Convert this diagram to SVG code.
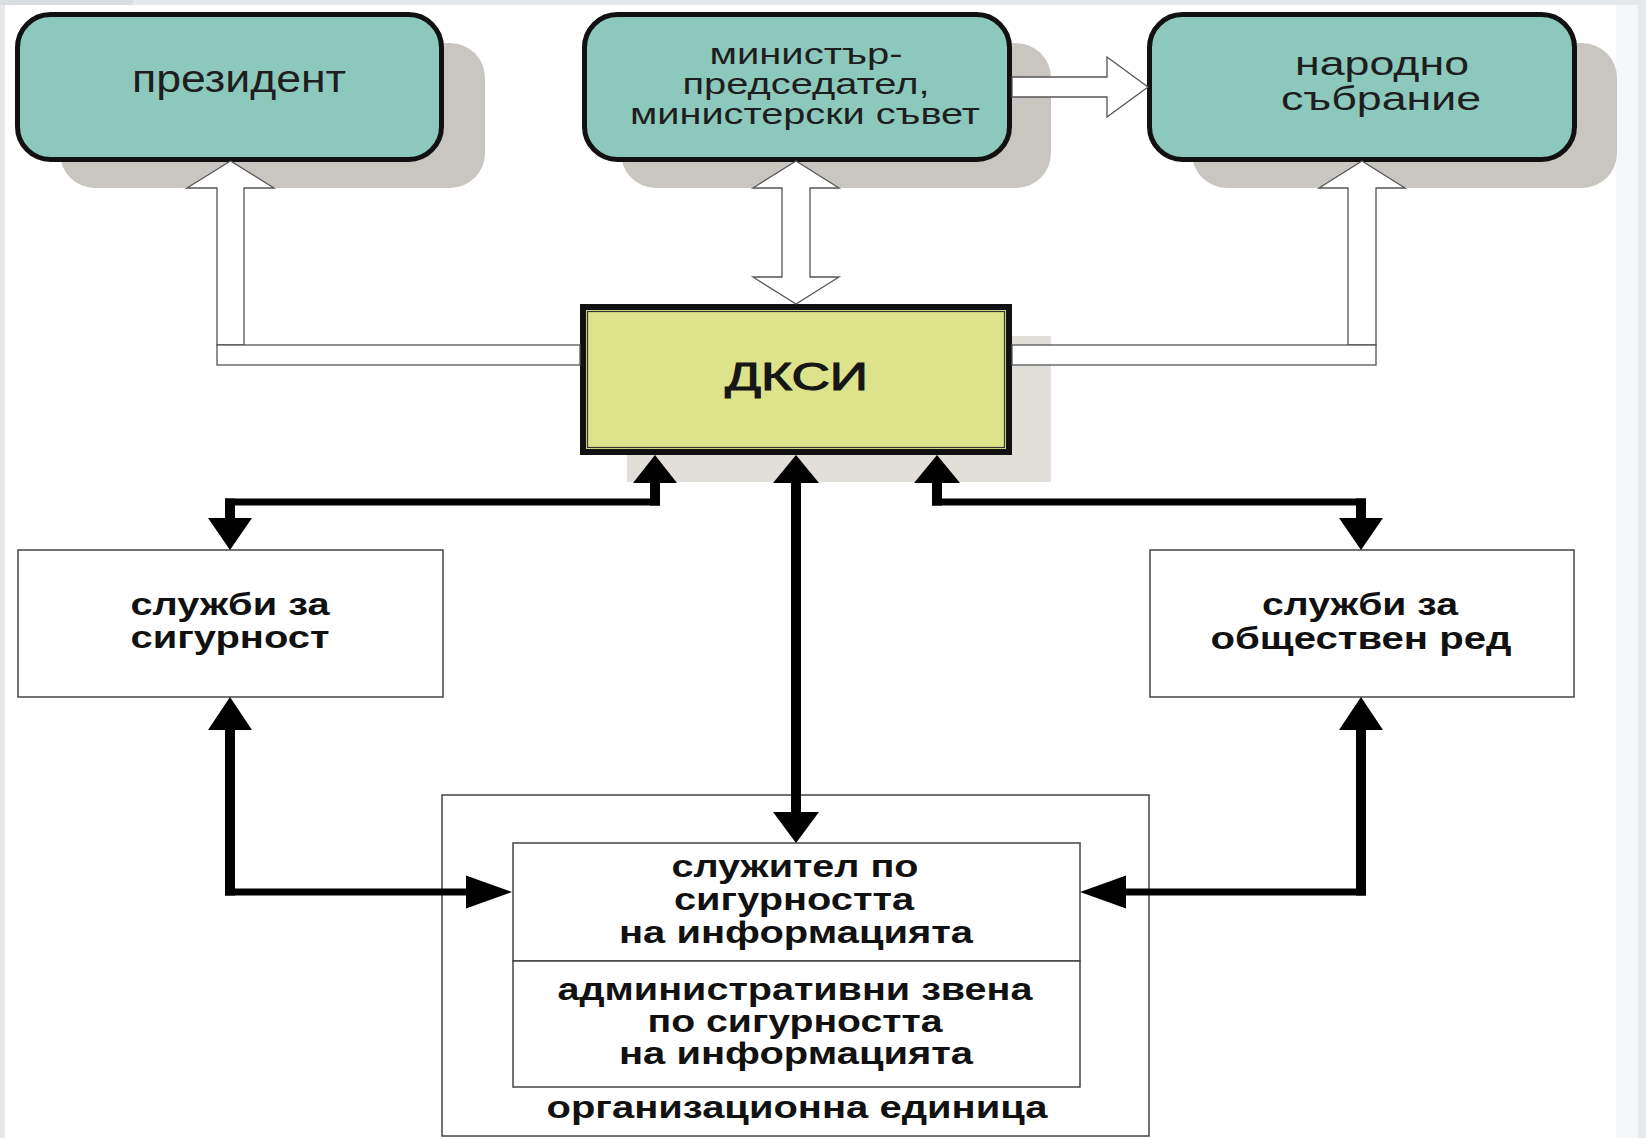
<svg xmlns="http://www.w3.org/2000/svg" width="1646" height="1138" viewBox="0 0 1646 1138">
<style>
.shadow{fill:#c9c5c1}
.round{fill:#8cc9bc;stroke:#111;stroke-width:5}
.thin{fill:#fff;stroke:#444;stroke-width:1.5}
.hollow{fill:#fff;stroke:#555;stroke-width:1.3;stroke-linejoin:miter}
.reg{font-family:"Liberation Sans",Arial,sans-serif;fill:#1e1e1e;text-anchor:middle}
.bold{font-family:"Liberation Sans",Arial,sans-serif;font-weight:bold;fill:#111;text-anchor:middle;font-size:31px}
.head{fill:#000}
.vline{stroke:#000;stroke-width:10;fill:none}
.hline{stroke:#000;stroke-width:7;fill:none}
</style>
<rect x="0" y="0" width="1646" height="1138" fill="#e5e9ec"/>
<rect x="0" y="0" width="133" height="5" fill="#d9dee1"/>
<rect x="5" y="5" width="1633" height="1133" fill="#fff"/>
<rect x="1616" y="5" width="22" height="1133" fill="#f6f7f8"/>

<g id="president">
<rect class="shadow" x="60" y="43" width="425" height="145" rx="35"/>
<rect class="round" x="17.5" y="14.5" width="424" height="145" rx="33"/>
<text class="reg" x="239" y="92" font-size="39" textLength="214" lengthAdjust="spacingAndGlyphs">президент</text>
</g>

<g id="minister">
<rect class="shadow" x="621" y="43" width="430" height="145" rx="35"/>
<rect class="round" x="584.5" y="14.5" width="425" height="145" rx="33"/>
<text class="reg" x="806" y="64" font-size="29" textLength="193" lengthAdjust="spacingAndGlyphs">министър-</text>
<text class="reg" x="806" y="94" font-size="29" textLength="247" lengthAdjust="spacingAndGlyphs">председател,</text>
<text class="reg" x="805" y="124" font-size="29" textLength="350" lengthAdjust="spacingAndGlyphs">министерски съвет</text>
</g>

<g id="parliament">
<rect class="shadow" x="1192" y="43" width="425" height="145" rx="35"/>
<rect class="round" x="1149.5" y="14.5" width="425" height="145" rx="33"/>
<text class="reg" x="1382" y="75" font-size="33" textLength="174" lengthAdjust="spacingAndGlyphs">народно</text>
<text class="reg" x="1381" y="110" font-size="33" textLength="200" lengthAdjust="spacingAndGlyphs">събрание</text>
</g>

<g id="dksi">
<rect x="627" y="336" width="424" height="146" fill="#e2dfda"/>
<rect x="583" y="307" width="426" height="145" fill="#dce38a" stroke="#111" stroke-width="6"/>
<rect x="587.5" y="311.5" width="417" height="136" fill="none" stroke="#333" stroke-width="1.2"/>
<text x="796.5" y="390" font-family="Liberation Sans, Arial, sans-serif" font-size="39" text-anchor="middle" fill="#161616" stroke="#161616" stroke-width="1.1" textLength="143" lengthAdjust="spacingAndGlyphs">ДКСИ</text>
</g>

<g id="security">
<rect class="thin" x="18" y="550" width="425" height="147"/>
<text class="bold" x="230" y="615" textLength="199" lengthAdjust="spacingAndGlyphs">служби за</text>
<text class="bold" x="230" y="648" textLength="199" lengthAdjust="spacingAndGlyphs">сигурност</text>
</g>

<g id="public-order">
<rect class="thin" x="1150" y="550" width="424" height="147"/>
<text class="bold" x="1360" y="615" textLength="196" lengthAdjust="spacingAndGlyphs">служби за</text>
<text class="bold" x="1361" y="649" textLength="301" lengthAdjust="spacingAndGlyphs">обществен ред</text>
</g>

<g id="org-unit">
<rect class="thin" x="442" y="795" width="707" height="341"/>
<text class="bold" x="797" y="1118" textLength="501" lengthAdjust="spacingAndGlyphs">организационна единица</text>
</g>

<g id="officer">
<rect class="thin" x="513" y="843" width="567" height="118"/>
<text class="bold" x="795" y="877" textLength="247" lengthAdjust="spacingAndGlyphs">служител по</text>
<text class="bold" x="794" y="910" textLength="240" lengthAdjust="spacingAndGlyphs">сигурността</text>
<text class="bold" x="796" y="943" textLength="354" lengthAdjust="spacingAndGlyphs">на информацията</text>
</g>

<g id="admin-units">
<rect class="thin" x="513" y="961" width="567" height="126"/>
<text class="bold" x="795" y="1000" textLength="475" lengthAdjust="spacingAndGlyphs">административни звена</text>
<text class="bold" x="795" y="1032" textLength="295" lengthAdjust="spacingAndGlyphs">по сигурността</text>
<text class="bold" x="796" y="1064" textLength="354" lengthAdjust="spacingAndGlyphs">на информацията</text>
</g>

<g id="connectors">
<polygon class="hollow" points="217,345 217,188 187,188 230.5,161 274,188 244,188 244,345"/>
<rect class="hollow" x="217" y="345" width="363" height="20"/>
<polygon class="hollow" points="1348,345 1348,188 1319,188 1362,161 1405,188 1376,188 1376,345"/>
<rect class="hollow" x="1012" y="345" width="364" height="20"/>
<polygon class="hollow" points="796,161 839,188 810,188 810,277 839,277 796,304 753,277 782,277 782,188 753,188"/>
<polygon class="hollow" points="1012,77 1107,77 1107,57 1148,87 1107,117 1107,97 1012,97"/>

<polygon class="head" points="655,455 633,483 677,483"/>
<line class="vline" x1="655" y1="482" x2="655" y2="505.5"/>
<line class="hline" x1="660" y1="502" x2="225" y2="502"/>
<line class="vline" x1="230" y1="498.5" x2="230" y2="519"/>
<polygon class="head" points="230,550 208,518 252,518"/>

<polygon class="head" points="796,455 773,483 819,483"/>
<line class="vline" x1="796" y1="482" x2="796" y2="813"/>
<polygon class="head" points="796,843 773,812 819,812"/>

<polygon class="head" points="937,455 914,483 960,483"/>
<line class="vline" x1="937" y1="482" x2="937" y2="505.5"/>
<line class="hline" x1="932" y1="502" x2="1366" y2="502"/>
<line class="vline" x1="1361" y1="498.5" x2="1361" y2="519"/>
<polygon class="head" points="1361,550 1339,518 1383,518"/>

<polygon class="head" points="230,697 208,730 252,730"/>
<line class="vline" x1="230" y1="729" x2="230" y2="895.5"/>
<line class="hline" x1="225" y1="892" x2="467" y2="892"/>
<polygon class="head" points="512,892 466,875.5 466,908.5"/>

<polygon class="head" points="1361,697 1339,730 1383,730"/>
<line class="vline" x1="1361" y1="729" x2="1361" y2="895.5"/>
<line class="hline" x1="1366" y1="892" x2="1125" y2="892"/>
<polygon class="head" points="1080,892 1126,875.5 1126,908.5"/>
</g>
</svg>
